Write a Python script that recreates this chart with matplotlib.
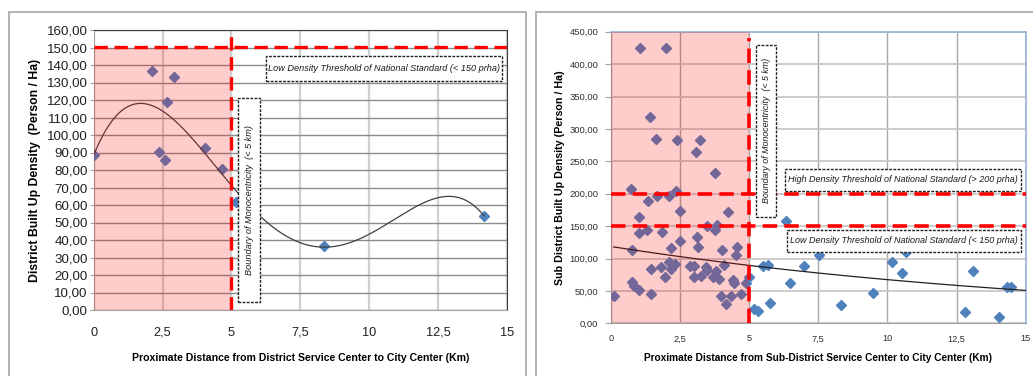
import numpy as np
import matplotlib
matplotlib.use("Agg")
import matplotlib.pyplot as plt
from matplotlib.patches import Rectangle
from matplotlib.ticker import FuncFormatter

# ---------------- data ----------------
left_x = [0.00, 2.13, 2.90, 2.65, 2.38, 2.59, 4.03, 4.65, 5.17, 8.35, 14.16]
left_y = [88.7, 136.7, 133.1, 119.0, 90.3, 85.9, 92.8, 80.4, 61.5, 36.6, 53.9]

right_x = [0.11, 1.04, 1.99, 1.42, 1.64, 2.39, 3.23, 3.09, 3.77, 0.72, 2.34, 2.10,
           1.65, 1.35, 2.50, 4.24, 1.00, 3.85, 3.49, 3.76, 1.29, 1.00, 1.85, 3.10,
           2.51, 0.77, 2.18, 3.15, 4.03, 4.57, 4.53, 2.08, 2.32, 4.08, 2.87, 2.99,
           2.17, 1.45, 1.81, 3.42, 3.48, 3.80, 1.94, 2.99, 3.24, 3.70, 3.92, 4.40,
           4.46, 0.76, 0.84, 1.00, 1.44, 3.99, 4.33, 4.72, 4.16, 4.87,
           5.00, 5.19, 5.31, 5.49, 5.69, 5.76, 6.34, 6.48, 6.98, 7.52, 8.31, 9.47,
           10.17, 10.52, 10.67, 12.79, 13.11, 14.04, 14.34, 14.46]
right_y = [42.6, 424.8, 425.3, 317.8, 284.4, 282.3, 282.9, 264.3, 231.9, 206.5, 204.5, 196.0,
           196.4, 189.5, 172.8, 171.0, 163.8, 152.2, 149.5, 144.2, 144.4, 139.1, 140.9, 133.4,
           127.5, 113.1, 116.2, 117.3, 113.1, 117.3, 105.2, 95.0, 90.8, 89.5, 88.5, 88.5,
           83.5, 83.3, 86.4, 87.4, 82.0, 80.2, 70.8, 70.8, 73.3, 71.2, 67.9, 66.3,
           62.2, 64.3, 57.0, 51.7, 45.8, 42.6, 42.6, 45.5, 29.3, 61.7,
           72.0, 22.6, 19.5, 88.0, 90.0, 31.9, 157.9, 62.2, 89.0, 105.4, 28.8, 46.8,
           94.1, 77.1, 110.6, 17.5, 80.7, 9.8, 56.6, 56.6]

# exponential trendline: y = a * exp(b * x)
right_trend_a = 118.5
right_trend_b = -0.0565
right_trend_range = [0.1, 15.0]

boundary_km = 5
low_threshold = 150
high_threshold = 200

x_ticks = [0, 2.5, 5, 7.5, 10, 12.5, 15]
left_yticks = list(range(0, 161, 10))
right_yticks = list(range(0, 451, 50))

left_box_text = "Low Density Threshold of National Standard (< 150 prha)"
right_high_text = "High Density Threshold of National Standard (> 200 prha)"
right_low_text = "Low Density Threshold of National Standard (< 150 prha)"
boundary_text = "Boundary of Monocentricity  (< 5 km)"
left_xlabel = "Proximate Distance from District Service Center to City Center (Km)"
left_ylabel = "District Built Up Density  (Person / Ha)"
right_xlabel = "Proximate Distance from Sub-District Service Center to City Center (Km)"
right_ylabel = "Sub District Built Up Density (Person / Ha)"

# ---------------- style ----------------
plt.rcParams['font.family'] = ['Liberation Sans', 'DejaVu Sans']
BLUE = '#4F81BD'
RED = '#FF0000'
BOXTXT = '#1A1A1A'

W, H = 1033, 376
fig = plt.figure(figsize=(W / 100, H / 100), dpi=100)


def fx(px):
    return px / W


def fy(py):
    return 1 - py / H


# outer chart frames
fig.patches.append(Rectangle((fx(9), fy(385)), fx(526) - fx(9), fy(12) - fy(385),
                             transform=fig.transFigure, fill=False, ec='#A6A6A6', lw=1.2))
fig.patches.append(Rectangle((fx(536), fy(385)), fx(1040) - fx(536), fy(12) - fy(385),
                             transform=fig.transFigure, fill=False, ec='#A6A6A6', lw=1.2))


def num_fmt(v, pos):
    return f"{v:.2f}".replace('.', ',')


def x_fmt(v, pos):
    return f"{v:g}".replace('.', ',')


def dashed_box(ax, x0, x1, y0, y1, text, size, rot=0):
    ax.add_patch(Rectangle((x0, y0), x1 - x0, y1 - y0, fc='white', ec='#202020',
                           lw=1.0, ls=(0, (2, 1)), zorder=6))
    ax.text((x0 + x1) / 2, (y0 + y1) / 2, text, ha='center', va='center', rotation=rot,
            fontsize=size, style='italic', color=BOXTXT, zorder=7)


# ---------------- left chart ----------------
axL = fig.add_axes([fx(93.7), fy(310), fx(507) - fx(93.7), fy(30) - fy(310)])
axL.set_xlim(0, 15)
axL.set_ylim(0, 160)
axL.set_xticks(x_ticks)
axL.set_yticks(left_yticks)
axL.xaxis.set_major_formatter(FuncFormatter(x_fmt))
axL.yaxis.set_major_formatter(FuncFormatter(num_fmt))
axL.yaxis.grid(True, color='#8C8C8C', lw=1.0, zorder=0)
axL.xaxis.grid(True, color='#D0D0D0', lw=1.6, zorder=0)
axL.set_axisbelow(True)
for s in ['left', 'bottom']:
    axL.spines[s].set_color('#A0A0A0')
for s in ['top', 'right']:
    axL.spines[s].set_color('#404040')
axL.tick_params(axis='y', length=3, color='#A0A0A0', labelsize=9.6, pad=1.5, labelcolor='#202020')
axL.tick_params(axis='x', length=0, labelsize=9.2, pad=12, labelcolor='#202020')

axL.plot(left_x, left_y, ls='none', marker='D', ms=4.6, color=BLUE, zorder=3)
# polynomial trend (order 4)
coef = np.polyfit(left_x, left_y, 4)
xx = np.linspace(min(left_x), max(left_x), 300)
axL.plot(xx, np.polyval(coef, xx), color='#404040', lw=0.9, zorder=3)
axL.add_patch(Rectangle((0, 0), boundary_km - 0.04, low_threshold - 0.5, fc=RED, alpha=0.2,
                        ec='none', zorder=4))
axL.axhline(low_threshold + 0.5, color=RED, lw=2.4, dashes=(4, 2), zorder=5)
axL.axvline(boundary_km, color=RED, lw=2.4, dashes=(4, 2), zorder=5)

dashed_box(axL, 6.24, 14.83, 130.9, 145.3, left_box_text, 6.6)
dashed_box(axL, 5.24, 6.04, 4.4, 121.3, boundary_text, 6.6, rot=90)

axL.set_xlabel(left_xlabel, fontsize=7.6, fontweight='bold', labelpad=10)
axL.set_ylabel(left_ylabel, fontsize=8.8, fontweight='bold', labelpad=4)

# ---------------- right chart ----------------
axR = fig.add_axes([fx(611), fy(323.3), fx(1025.7) - fx(611), fy(31.7) - fy(323.3)])
axR.set_xlim(0, 15)
axR.set_ylim(0, 450)
axR.set_xticks(x_ticks)
axR.set_yticks(right_yticks)
axR.xaxis.set_major_formatter(FuncFormatter(x_fmt))
axR.yaxis.set_major_formatter(FuncFormatter(num_fmt))
axR.yaxis.grid(True, color='#C8C8C8', lw=1.3, zorder=0)
axR.xaxis.grid(True, color='#A8A8A8', lw=1.0, zorder=0)
axR.set_axisbelow(True)
for s in ['left', 'bottom']:
    axR.spines[s].set_color('#A0A0A0')
for s in ['top', 'right']:
    axR.spines[s].set_color('#9DB7DA')
    axR.spines[s].set_linewidth(1.3)
axR.tick_params(axis='y', length=4, color='#A0A0A0', labelsize=6.8, pad=5, labelcolor='#303030')
axR.tick_params(axis='x', length=0, labelsize=6.6, pad=8, labelcolor='#303030')

axR.plot(right_x, right_y, ls='none', marker='D', ms=4.6, color=BLUE, zorder=3)
xr = np.linspace(right_trend_range[0], right_trend_range[1], 200)
axR.plot(xr, right_trend_a * np.exp(right_trend_b * xr), color='#202020', lw=0.9, zorder=3)
axR.add_patch(Rectangle((0, 0), boundary_km - 0.02, 450, fc=RED, alpha=0.2, ec='none', zorder=4))
axR.axhline(high_threshold, color=RED, lw=2.6, dashes=(4, 2), zorder=5)
axR.axhline(low_threshold, color=RED, lw=2.6, dashes=(4, 2), zorder=5)
axR.plot([boundary_km, boundary_km], [0, 440], color=RED, lw=2.6, dashes=(4, 2), zorder=5)

dashed_box(axR, 6.29, 14.82, 204.6, 238, right_high_text, 6.5)
dashed_box(axR, 6.35, 14.83, 110.5, 144, right_low_text, 6.5)
dashed_box(axR, 5.24, 5.98, 164.5, 429.5, boundary_text, 6.4, rot=90)

axR.set_xlabel(right_xlabel, fontsize=7.3, fontweight='bold', labelpad=7)
axR.set_ylabel(right_ylabel, fontsize=7.7, fontweight='bold', labelpad=3)

fig.savefig("out.png", dpi=100)
